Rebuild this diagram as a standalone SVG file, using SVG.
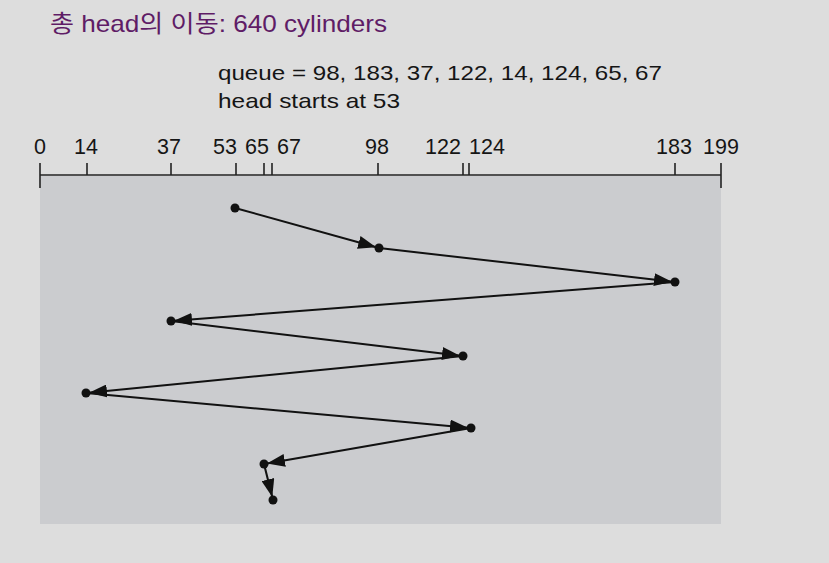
<svg xmlns="http://www.w3.org/2000/svg" width="829" height="563" viewBox="0 0 829 563">
<style>
.title{font-family:"Liberation Sans","Noto Sans CJK KR",sans-serif;font-size:24px;fill:#5f1c66}
.txt{font-family:"Liberation Sans",Arial,sans-serif;font-size:21px;fill:#151515}
.lbl{font-family:"Liberation Sans",Arial,sans-serif;font-size:21.5px;fill:#151515}
.tick{stroke:#222;stroke-width:1.6}
.path{stroke:#111;stroke-width:2;fill:none;marker-end:url(#ah)}
.dot{fill:#111}
</style>
<defs>
<marker id="ah" viewBox="0 0 21 13" markerWidth="21" markerHeight="13" refX="21" refY="6.5" orient="auto" markerUnits="userSpaceOnUse">
<path d="M0,0 L18,6.5 L0,13 z" fill="#111"/>
</marker>
</defs>
<rect x="0" y="0" width="829" height="563" fill="#dddddd"/>
<g id="title"><text class="title" x="50" y="32" textLength="337" lengthAdjust="spacingAndGlyphs">총 head의 이동: 640 cylinders</text></g>
<g id="info">
<text class="txt" x="218" y="80" textLength="444" lengthAdjust="spacingAndGlyphs">queue = 98, 183, 37, 122, 14, 124, 65, 67</text>
<text class="txt" x="218" y="108" textLength="182" lengthAdjust="spacingAndGlyphs">head starts at 53</text>
</g>
<rect id="plot" x="40" y="176" width="681" height="348" fill="#cbcccf"/>
<g id="axis">
<line class="tick" x1="40" y1="175" x2="721" y2="175"/>
<line class="tick" x1="40" y1="163" x2="40" y2="188"/>
<line class="tick" x1="721" y1="163" x2="721" y2="188"/>
<line class="tick" x1="87" y1="163" x2="87" y2="175"/>
<line class="tick" x1="171" y1="163" x2="171" y2="175"/>
<line class="tick" x1="236" y1="163" x2="236" y2="175"/>
<line class="tick" x1="264" y1="163" x2="264" y2="175"/>
<line class="tick" x1="272" y1="163" x2="272" y2="175"/>
<line class="tick" x1="378" y1="163" x2="378" y2="175"/>
<line class="tick" x1="463" y1="163" x2="463" y2="175"/>
<line class="tick" x1="469" y1="163" x2="469" y2="175"/>
<line class="tick" x1="675" y1="163" x2="675" y2="175"/>
<text class="lbl" x="34" y="154">0</text>
<text class="lbl" x="74" y="154">14</text>
<text class="lbl" x="157" y="154">37</text>
<text class="lbl" x="213" y="154">53</text>
<text class="lbl" x="245" y="154">65</text>
<text class="lbl" x="277" y="154">67</text>
<text class="lbl" x="365" y="154">98</text>
<text class="lbl" x="425" y="154">122</text>
<text class="lbl" x="469" y="154">124</text>
<text class="lbl" x="656" y="154">183</text>
<text class="lbl" x="703" y="154">199</text>
</g>
<g id="connectors">
<line class="path" x1="235" y1="208" x2="379" y2="248"/>
<line class="path" x1="379" y1="248" x2="675" y2="282"/>
<line class="path" x1="675" y1="282" x2="171" y2="321"/>
<line class="path" x1="171" y1="321" x2="463" y2="356"/>
<line class="path" x1="463" y1="356" x2="86" y2="393"/>
<line class="path" x1="86" y1="393" x2="471" y2="428"/>
<line class="path" x1="471" y1="428" x2="264" y2="464"/>
<line class="path" x1="264" y1="464" x2="273" y2="500"/>
</g>
<g id="n53"><circle class="dot" cx="235" cy="208" r="4.5"/></g>
<g id="n98"><circle class="dot" cx="379" cy="248" r="4.5"/></g>
<g id="n183"><circle class="dot" cx="675" cy="282" r="4.5"/></g>
<g id="n37"><circle class="dot" cx="171" cy="321" r="4.5"/></g>
<g id="n122"><circle class="dot" cx="463" cy="356" r="4.5"/></g>
<g id="n14"><circle class="dot" cx="86" cy="393" r="4.5"/></g>
<g id="n124"><circle class="dot" cx="471" cy="428" r="4.5"/></g>
<g id="n65"><circle class="dot" cx="264" cy="464" r="4.5"/></g>
<g id="n67"><circle class="dot" cx="273" cy="500" r="4.5"/></g>
</svg>
